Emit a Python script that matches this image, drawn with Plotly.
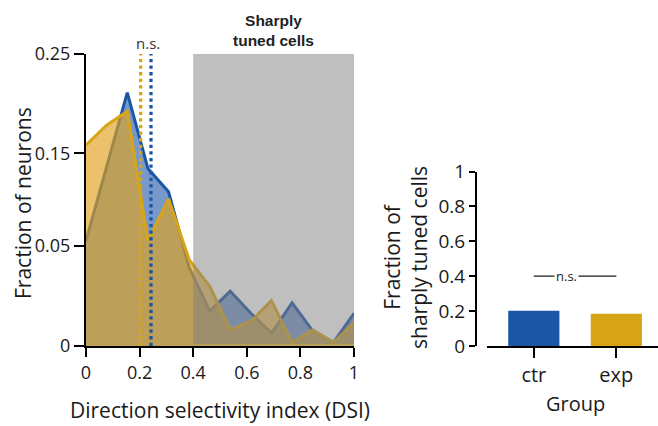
import plotly.graph_objects as go

# ---- data ----
dsi_bins = [0.0, 0.077, 0.154, 0.231, 0.308, 0.385, 0.462, 0.538, 0.615, 0.692, 0.769, 0.846, 0.923, 1.0]
frac_ctr = [0.090, 0.153, 0.217, 0.152, 0.132, 0.067, 0.030, 0.047, 0.028, 0.011, 0.037, 0.013, 0.003, 0.028]
frac_exp = [0.172, 0.189, 0.201, 0.090, 0.126, 0.074, 0.051, 0.014, 0.021, 0.039, 0.003, 0.014, 0.003, 0.020]
median_ctr = 0.2425
median_exp = 0.204
sharp_threshold = 0.4

y_tickvals = [0, 0.0859, 0.165, 0.25]
y_ticktext = ["0", "0.05", "0.15", "0.25"]
x_tickvals = [0, 0.2, 0.4, 0.6, 0.8, 1]
x_ticktext = ["0", "0.2", "0.4", "0.6", "0.8", "1"]

groups = ["ctr", "exp"]
sharp_frac = [0.202, 0.185]
bar_tickvals = [0, 0.2, 0.4, 0.6, 0.8, 1]
bar_ticktext = ["0", "0.2", "0.4", "0.6", "0.8", "1"]

BLUE = "#1d55a5"
YELLOW = "#d9a516"
FONT = "Open Sans"
TXT = "#1a1a1a"

W, H = 658, 426
def px(x):
    return x / W
def py(y):
    return (H - y) / H

fig = go.Figure()

fig.add_trace(go.Scatter(x=dsi_bins, y=frac_ctr, mode="lines", fill="tozeroy",
                         line=dict(color=BLUE, width=3),
                         fillcolor="rgba(29,85,165,0.6)", xaxis="x", yaxis="y",
                         hoverinfo="skip"))
fig.add_trace(go.Scatter(x=dsi_bins, y=frac_exp, mode="lines", fill="tozeroy",
                         line=dict(color=YELLOW, width=3),
                         fillcolor="rgba(224,162,30,0.66)", xaxis="x", yaxis="y",
                         hoverinfo="skip"))
# median lines
for m, c in [(median_exp, YELLOW), (median_ctr, BLUE)]:
    fig.add_trace(go.Scatter(x=[m, m], y=[0, 0.25], mode="lines",
                             line=dict(color=c, width=3.3, dash="dot"),
                             xaxis="x", yaxis="y", hoverinfo="skip"))

# bars
fig.add_trace(go.Bar(x=[0, 1], y=sharp_frac, marker=dict(color=[BLUE, "#d7a418"], line=dict(width=0)),
                     width=0.62, xaxis="x2", yaxis="y2", hoverinfo="skip"))

axis_common = dict(showline=True, linecolor="black", linewidth=2, ticks="outside",
                   tickcolor="black", tickwidth=2, showgrid=False, zeroline=False,
                   automargin=False,
                   tickfont=dict(family=FONT, size=18, color=TXT))

fig.update_layout(
    template="none",
    width=W, height=H, margin=dict(l=0, r=0, t=0, b=0, pad=0),
    paper_bgcolor="white", plot_bgcolor="rgba(0,0,0,0)", showlegend=False,
    xaxis=dict(domain=[px(86), px(354)], range=[0, 1], anchor="y",
               tickvals=x_tickvals, ticktext=x_ticktext, ticklen=9, **axis_common),
    yaxis=dict(domain=[py(346), py(54)], range=[0, 0.25], anchor="x",
               tickvals=y_tickvals, ticktext=y_ticktext, ticklen=10, **axis_common),
    xaxis2=dict(domain=[px(486.7), 1.0], range=[-0.571, 1.505], anchor="y2",
                tickvals=[0, 1], ticktext=groups, ticklen=10,
                **{**axis_common, "tickfont": dict(family=FONT, size=20, color=TXT)}),
    yaxis2=dict(domain=[py(346), py(171.5)], range=[0, 1], anchor="free", position=px(476),
                tickvals=bar_tickvals, ticktext=bar_ticktext, ticklen=6,
                **{**axis_common, "tickfont": dict(family=FONT, size=19, color=TXT)}),
)

shapes = [
    dict(type="rect", xref="x", yref="y", x0=sharp_threshold, x1=1, y0=0.0015, y1=0.25,
         fillcolor="rgb(128,128,128)", opacity=0.5, line=dict(width=0), layer="above"),
    dict(type="line", xref="x2", yref="y2", x0=0, x1=1, y0=0.4, y1=0.4,
         line=dict(color=TXT, width=1.2)),
]
fig.update_layout(shapes=shapes)

ann = [
    dict(text="<b>Sharply<br>tuned cells</b>", xref="x", yref="paper", x=0.7, y=py(30),
         showarrow=False, font=dict(family="Liberation Sans", size=15.5, color="#222"),
         yanchor="middle", xanchor="center"),
    dict(text="n.s.", xref="x", yref="paper", x=(147.5 - 86) / 268, y=py(43),
         showarrow=False, font=dict(family=FONT, size=15, color="#333"),
         yanchor="middle", xanchor="center"),
    dict(text="Fraction of neurons", xref="paper", yref="paper", x=px(23), y=py(203),
         textangle=-90, showarrow=False, font=dict(family=FONT, size=21, color=TXT),
         xanchor="center", yanchor="middle"),
    dict(text="Direction selectivity index (DSI)", xref="paper", yref="paper", x=px(220), y=py(410),
         showarrow=False, font=dict(family=FONT, size=21, color=TXT),
         xanchor="center", yanchor="middle"),
    dict(text="Fraction of<br>sharply tuned cells", xref="paper", yref="paper", x=px(405), y=py(258),
         textangle=-90, showarrow=False, font=dict(family=FONT, size=21, color=TXT),
         xanchor="center", yanchor="middle"),
    dict(text="Group", xref="paper", yref="paper", x=px(575), y=py(403),
         showarrow=False, font=dict(family=FONT, size=20, color=TXT),
         xanchor="center", yanchor="middle"),
    dict(text="n.s.", xref="x2", yref="y2", x=0.40, y=0.4,
         showarrow=False, font=dict(family=FONT, size=13, color=TXT),
         bgcolor="white", borderpad=1, xanchor="center", yanchor="middle"),
]
fig.update_layout(annotations=ann)

fig.write_html("out.html")
